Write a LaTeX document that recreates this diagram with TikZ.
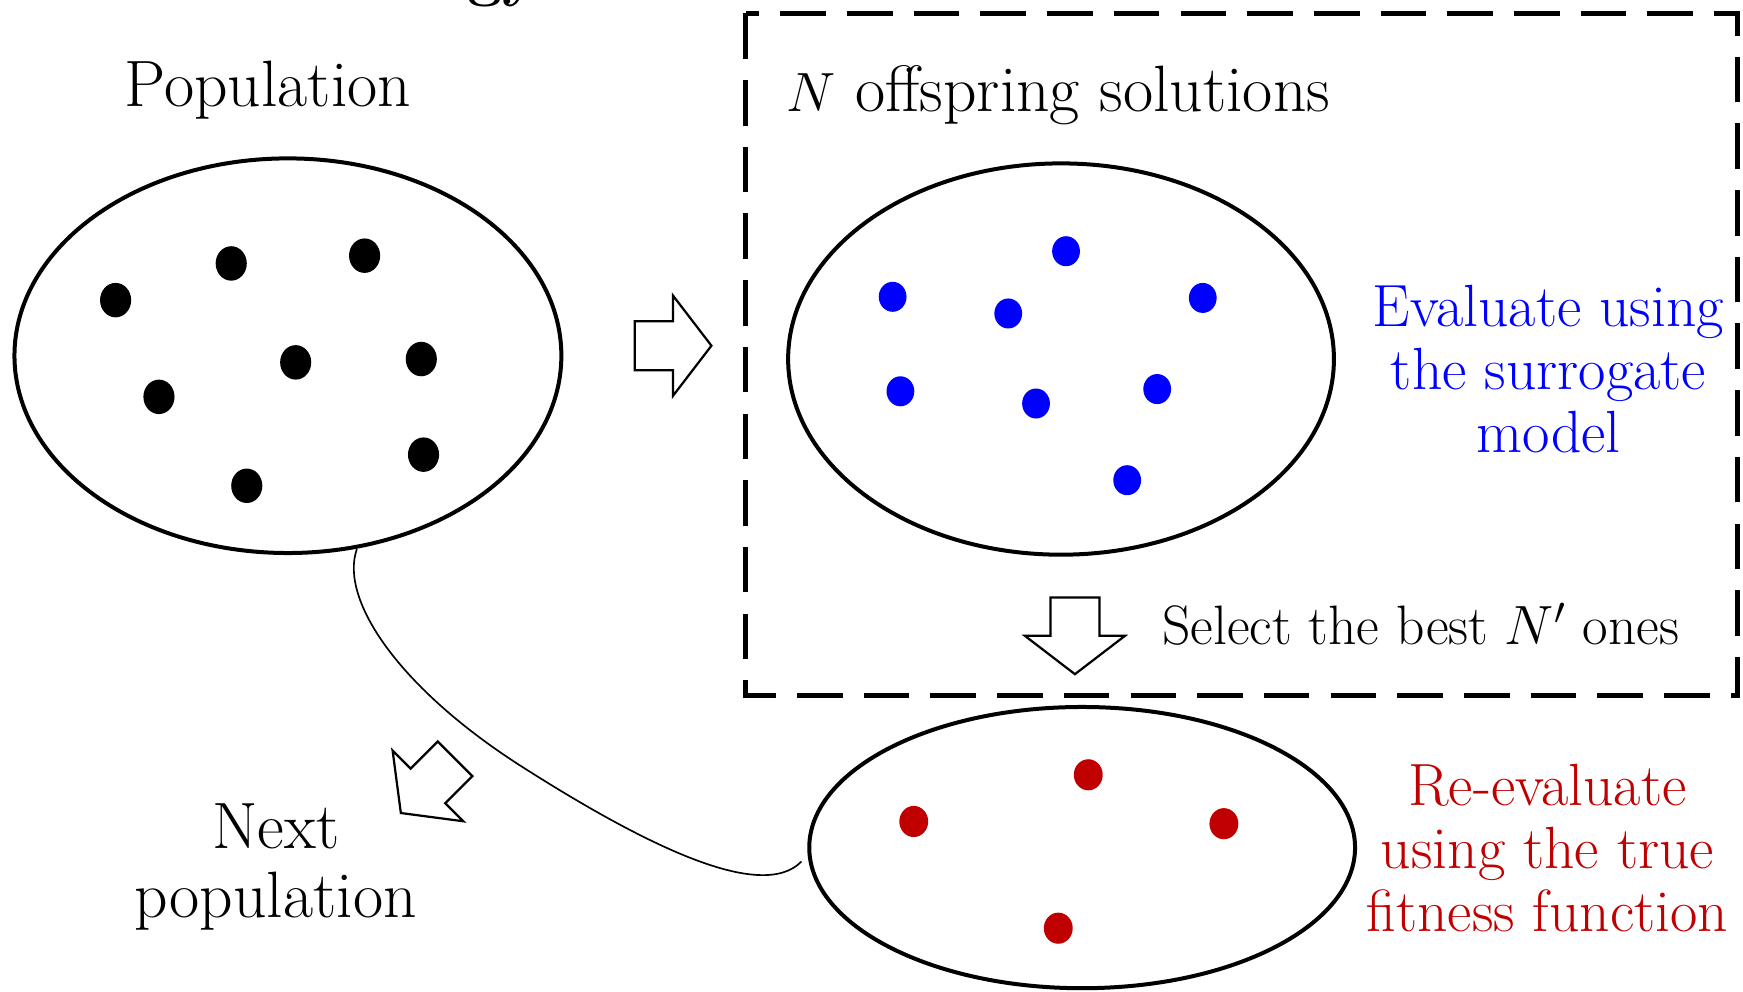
\documentclass[tikz,border=0pt]{standalone}
\usetikzlibrary{shapes.geometric}
\definecolor{evblue}{RGB}{0,0,255}
\definecolor{evred}{RGB}{192,0,0}
\tikzset{
  bigell/.style={draw, ellipse, line width=1.8pt, inner sep=0pt},
  blackdot/.style={fill=black, ellipse, inner sep=0pt, minimum width=14pt, minimum height=15.5pt},
  bluedot/.style={fill=evblue, ellipse, inner sep=0pt, minimum width=12.5pt, minimum height=13.5pt},
  reddot/.style={fill=evred, ellipse, inner sep=0pt, minimum width=13pt, minimum height=14pt},
  lbl/.style={inner sep=0pt, font=\fontsize{29.5}{31}\selectfont},
  clbl/.style={inner sep=0pt, align=center, font=\fontsize{26.8}{28.5}\selectfont},
  dashbox/.style={line width=2.2pt, dash pattern=on 20.5pt off 9.5pt},
  hollowarrow/.pic={
    \draw[line width=1pt, line join=miter, fill=white]
      (-34.5,-22) -- (0,-22) -- (0,-45) -- (34.5,0) -- (0,45) -- (0,22) -- (-34.5,22) -- cycle;
  }
}
\begin{document}
\begin{tikzpicture}[x=0.5pt, y=-0.5pt]
\useasboundingbox (0,0) rectangle (1568,892);

% cut-off title fragment
\node[anchor=base west, inner sep=0pt, font=\bfseries\fontsize{28}{30}\selectfont] (title) at (420,-5) {gy};

% dashed box
\draw[dashbox] (671,12) rectangle (1563,626);

% labels
\node[lbl, anchor=base] (poplbl) at (241,96) {Population};
\node[lbl, anchor=base] (offlbl) at (952,100) {$N$ offspring solutions};
\node[lbl, anchor=base, font=\fontsize{25}{28}\selectfont] (sellbl) at (1278,580) {Select the best $N'$ ones};
\node[lbl, align=center] (nextlbl) at (248,780) {Next\\population};
\node[clbl, text=evblue] (evallbl) at (1393,332) {Evaluate using\\the surrogate\\model};
\node[clbl, text=evred] (reevallbl) at (1392,763) {Re-evaluate\\using the true\\fitness function};

% ellipses
\node[bigell, minimum width=246pt, minimum height=177.5pt] (pop) at (259,320) {};
\node[bigell, minimum width=245.5pt, minimum height=176pt] (off) at (954.5,323) {};
\node[bigell, minimum width=245.5pt, minimum height=126.5pt] (sel) at (973.5,762.5) {};

% black dots
\node[blackdot] (b1) at (104,270) {};
\node[blackdot] (b2) at (208,237) {};
\node[blackdot] (b3) at (328,230) {};
\node[blackdot] (b4) at (266,326) {};
\node[blackdot] (b5) at (379,323) {};
\node[blackdot] (b6) at (143,357) {};
\node[blackdot] (b7) at (381,409) {};
\node[blackdot] (b8) at (222,437) {};

% blue dots
\node[bluedot] (u1) at (959,226) {};
\node[bluedot] (u2) at (803,267) {};
\node[bluedot] (u3) at (907,282) {};
\node[bluedot] (u4) at (1082,268) {};
\node[bluedot] (u5) at (810,352) {};
\node[bluedot] (u6) at (932,363) {};
\node[bluedot] (u7) at (1041,350) {};
\node[bluedot] (u8) at (1014,432) {};

% red dots
\node[reddot] (r1) at (979,697) {};
\node[reddot] (r2) at (822,739) {};
\node[reddot] (r3) at (1101,741) {};
\node[reddot] (r4) at (952,835) {};

% hollow arrows
\pic (arrright) at (605.5,311) {hollowarrow};
\pic[rotate=-90] (arrdown) at (967,572) {hollowarrow};
\pic[rotate=225] (arrnext) at (385,707) {hollowarrow};

% loop curve
\coordinate (cstart) at (321,494);
\coordinate (cend) at (721,775);
\draw[line width=0.75pt] (cstart) .. controls (305,540) and (360,620) .. (470,690)
   .. controls (580,760) and (685,812) .. (cend);
\end{tikzpicture}
\end{document}
